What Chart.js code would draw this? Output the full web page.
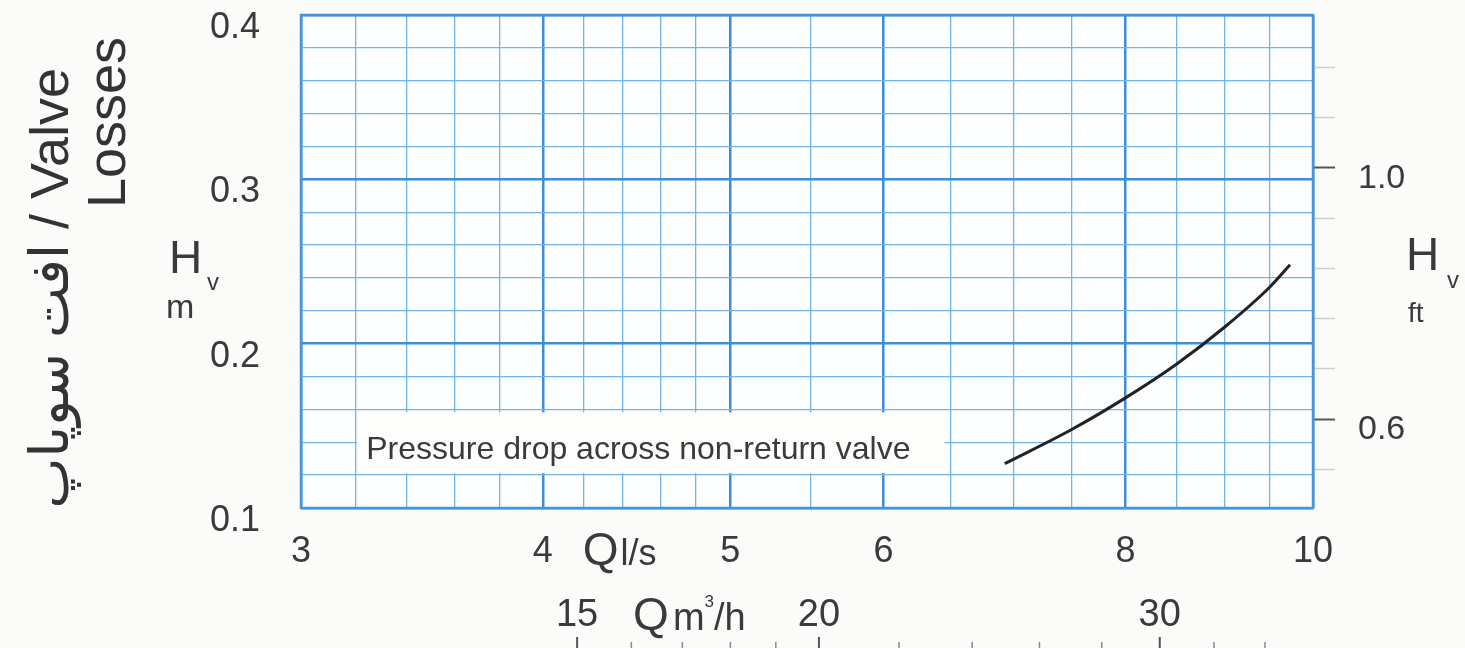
<!DOCTYPE html>
<html>
<head>
<meta charset="utf-8">
<script src="https://cdn.jsdelivr.net/npm/chart.js@4.4.1/dist/chart.umd.min.js"></script>
<style>
html,body{margin:0;padding:0;background:#fbfbf9;}
#myChart{display:block;}
</style>
</head>
<body>
<canvas id="myChart" width="1465" height="648"></canvas>
<script>
// curve: flow Q in l/s, loss Hv in m
var flowLs = [6.93, 7.5, 8.0, 8.5, 9.0, 9.5, 9.73];
var lossM = [0.127, 0.1476, 0.167, 0.1875, 0.210, 0.2345, 0.248];

// axis ticks
var qLabels = [3, 4, 5, 6, 8, 10];
var qMinor = [3.2, 3.4, 3.6, 3.8, 4.2, 4.4, 4.6, 4.8, 5.5, 6.5, 7, 7.5, 8.5, 9, 9.5];
var m3hLabels = [15, 20, 30];
var m3hMinor = [16, 17, 18, 19, 22, 24, 26, 28, 32, 34];
var mLabels = [0.1, 0.2, 0.3, 0.4];
var ftLabels = [0.6, 1.0];
var ftMinor = [0.52, 0.68, 0.76, 0.84, 0.92, 1.08, 1.16];
var ftRange = [0.4582, 1.2438];
var lsToM3h = 3.6;

var FONT = '"Liberation Sans", "DejaVu Sans", sans-serif';
var TXT = '#3a3a3a';

function isIn(list, v){
	for(var i = 0; i < list.length; i++){
		if(Math.abs(list[i] - v) < 1e-6) return true;
	}
	return false;
}
function txt(ctx, s, x, y, size, align){
	ctx.font = size + 'px ' + FONT;
	ctx.textAlign = align || 'left';
	ctx.fillText(s, x, y);
	return ctx.measureText(s).width;
}
// fixed box sizes so the plot sits where the original one does
function fija(w, h){
	return function(s){
		if(w) s.width = w;
		if(h) s.height = h;
		s.paddingTop = 0;
		s.paddingBottom = 0;
		s.paddingLeft = 0;
		s.paddingRight = 0;
	};
}

var decoPlugin = {
	id: 'deco',
	beforeDraw: function(chart){
		var ctx = chart.ctx, a = chart.chartArea;
		ctx.save();
		ctx.fillStyle = '#fbfbf9';
		ctx.fillRect(0, 0, chart.width, chart.height);
		ctx.fillStyle = '#fdfeff';
		ctx.fillRect(a.left, a.top, a.right - a.left, a.bottom - a.top);
		ctx.restore();
	},
	beforeDatasetsDraw: function(chart){
		var ctx = chart.ctx, a = chart.chartArea;
		var x = chart.scales.x, y = chart.scales.y;
		ctx.save();
		// white box behind the note
		var bx0 = x.getPixelForValue(3.2) + 2, bx1 = x.getPixelForValue(6.45);
		var by0 = y.getPixelForValue(0.16) + 3, by1 = y.getPixelForValue(0.12) - 2;
		ctx.fillStyle = '#fdfdfc';
		ctx.fillRect(bx0, by0, bx1 - bx0, by1 - by0);
		ctx.fillStyle = TXT;
		ctx.textBaseline = 'alphabetic';
		txt(ctx, 'Pressure drop across non-return valve', bx0 + 9, by1 - 14, 32);
		// frame
		ctx.strokeStyle = '#4596d8';
		ctx.lineWidth = 2.5;
		ctx.strokeRect(a.left, a.top, a.right - a.left, a.bottom - a.top);
		ctx.restore();
	},
	afterDraw: function(chart){
		var ctx = chart.ctx;
		var x = chart.scales.x, x2 = chart.scales.x2;
		ctx.save();
		ctx.fillStyle = TXT;
		ctx.textBaseline = 'alphabetic';

		// second flow axis tick marks under its labels
		var all = m3hLabels.concat(m3hMinor);
		for(var i = 0; i < all.length; i++){
			var px = x2.getPixelForValue(all[i]);
			var major = isIn(m3hLabels, all[i]);
			ctx.strokeStyle = major ? '#555' : '#8a8a8a';
			ctx.lineWidth = major ? 2 : 1.5;
			ctx.beginPath();
			ctx.moveTo(px, x2.bottom - (major ? 11 : 6));
			ctx.lineTo(px, x2.bottom);
			ctx.stroke();
		}

		// axis names
		var qx = x.getPixelForValue(4) + 40;
		var w = txt(ctx, 'Q', qx, 565, 46);
		txt(ctx, 'l/s', qx + w + 2, 565, 36);

		var qx2 = x2.getPixelForValue(15) + 56;
		w = txt(ctx, 'Q', qx2, 630, 46);
		qx2 += w + 4;
		w = txt(ctx, 'm', qx2, 630, 38);
		qx2 += w;
		w = txt(ctx, '3', qx2, 607, 17);
		qx2 += w;
		txt(ctx, '/h', qx2, 630, 38);

		txt(ctx, 'H', 169, 273, 46);
		txt(ctx, 'v', 207, 290, 24);
		txt(ctx, 'm', 166, 318, 34);

		txt(ctx, 'H', 1406, 270, 46);
		txt(ctx, 'v', 1447, 288, 24);
		txt(ctx, 'ft', 1408, 322, 28);

		// rotated title on the left
		ctx.fillStyle = '#333';
		ctx.save();
		ctx.translate(68, 68);
		ctx.rotate(-Math.PI / 2);
		txt(ctx, 'افت سوپاپ / Valve', 0, 0, 54, 'right');
		ctx.restore();
		ctx.save();
		ctx.translate(125, 208);
		ctx.rotate(-Math.PI / 2);
		txt(ctx, 'Losses', 0, 0, 54, 'left');
		ctx.restore();

		ctx.restore();
	}
};

function crearGrafico(){
	var puntos = new Array();
	for(var i = 0; i < flowLs.length; i++){
		puntos.push({x: flowLs[i], y: lossM[i]});
	}
	var qTicks = qLabels.concat(qMinor).sort(function(a, b){ return a - b; });
	var ftTicks = ftLabels.concat(ftMinor).sort(function(a, b){ return a - b; });

	new Chart(document.getElementById("myChart"), {
		type: 'line',
		data: {
			datasets: [{
				label: 'Pressure drop across non-return valve',
				data: puntos,
				borderColor: '#222',
				borderWidth: 3,
				pointRadius: 0,
				fill: false,
				tension: 0.4,
				cubicInterpolationMode: 'monotone'
			}]
		},
		options: {
			responsive: false,
			animation: false,
			devicePixelRatio: 1,
			layout: { padding: { top: 15, left: 0, right: 0, bottom: 0 } },
			plugins: {
				legend: { display: false },
				tooltip: { enabled: false },
				title: { display: false }
			},
			scales: {
				x: {
					type: 'logarithmic',
					position: 'bottom',
					min: 3, max: 10,
					bounds: 'data',
					afterBuildTicks: function(s){
						s.ticks = qTicks.map(function(v){ return {value: v}; });
					},
					afterFit: fija(0, 60),
					border: { display: false },
					grid: {
						drawTicks: false,
						color: function(c){ return isIn(qLabels, c.tick.value) ? '#3d8ed6' : '#74b3e4'; },
						lineWidth: function(c){ return isIn(qLabels, c.tick.value) ? 2.5 : 1.3; }
					},
					ticks: {
						autoSkip: false,
						maxRotation: 0,
						padding: 22,
						color: TXT,
						font: { size: 36, family: FONT },
						callback: function(v){ return isIn(qLabels, v) ? String(v) : ''; }
					}
				},
				x2: {
					type: 'logarithmic',
					position: 'bottom',
					min: 3 * lsToM3h, max: 10 * lsToM3h,
					bounds: 'data',
					afterBuildTicks: function(s){
						s.ticks = m3hLabels.map(function(v){ return {value: v}; });
					},
					afterFit: fija(0, 80),
					border: { display: false },
					grid: { display: false, drawTicks: false },
					ticks: {
						autoSkip: false,
						maxRotation: 0,
						padding: 25,
						color: TXT,
						font: { size: 38, family: FONT },
						callback: function(v){ return String(v); }
					}
				},
				y: {
					type: 'linear',
					position: 'left',
					min: 0.1, max: 0.4,
					afterFit: fija(301, 0),
					border: { display: false },
					grid: {
						drawTicks: false,
						color: function(c){ return isIn(mLabels, c.tick.value) ? '#3d8ed6' : '#74b3e4'; },
						lineWidth: function(c){ return isIn(mLabels, c.tick.value) ? 2.5 : 1.3; }
					},
					ticks: {
						stepSize: 0.02,
						autoSkip: false,
						padding: 41,
						labelOffset: 13,
						color: TXT,
						font: { size: 36, family: FONT },
						callback: function(v){ return isIn(mLabels, v) ? v.toFixed(1) : ''; }
					}
				},
				y2: {
					type: 'linear',
					position: 'right',
					min: ftRange[0], max: ftRange[1],
					bounds: 'data',
					afterBuildTicks: function(s){
						s.ticks = ftTicks.map(function(v){ return {value: v}; });
					},
					afterFit: fija(152, 0),
					border: { display: false },
					grid: {
						drawOnChartArea: false,
						drawTicks: true,
						tickLength: 22,
						tickColor: function(c){ return isIn(ftLabels, c.tick.value) ? '#555' : 'rgba(150,150,150,0.45)'; },
						tickWidth: function(c){ return isIn(ftLabels, c.tick.value) ? 2 : 1.5; }
					},
					ticks: {
						autoSkip: false,
						padding: 23,
						labelOffset: 11,
						color: TXT,
						font: { size: 34, family: FONT },
						callback: function(v){ return isIn(ftLabels, v) ? v.toFixed(1) : ''; }
					}
				}
			}
		},
		plugins: [decoPlugin]
	});
}
crearGrafico();
</script>
</body>
</html>
